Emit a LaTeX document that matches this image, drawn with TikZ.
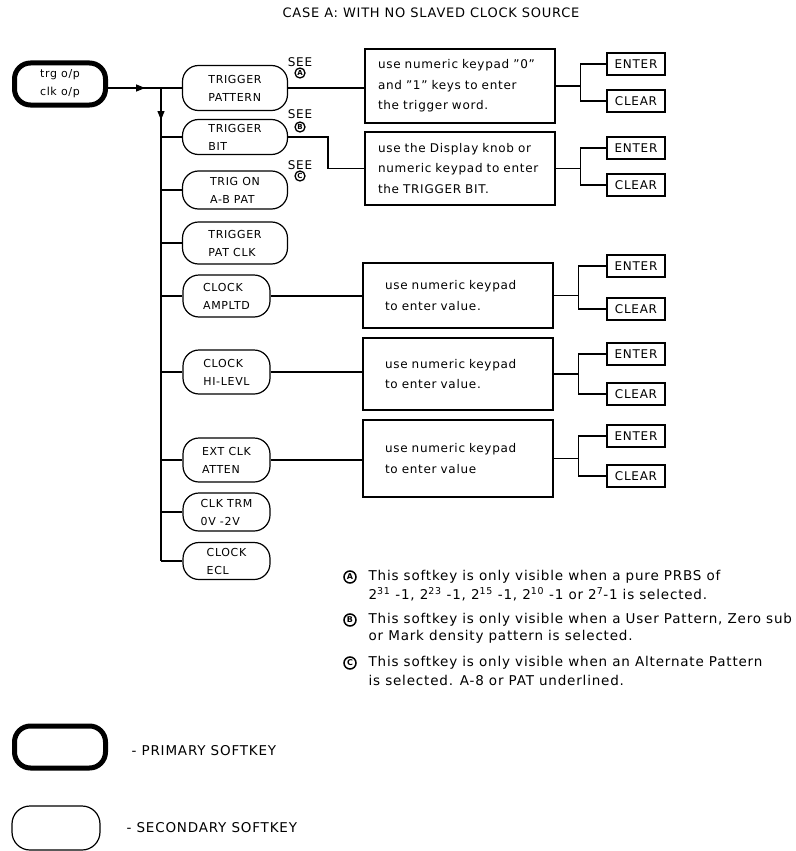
\documentclass[tikz,border=0pt]{standalone}
\usepackage{fontspec}
\setmainfont[LetterSpace=6]{DejaVu Sans}
\usetikzlibrary{arrows.meta,decorations.markings}
\begin{document}
\begin{tikzpicture}[x=1pt,y=-1pt,line width=1.2pt,
  every node/.style={inner sep=0pt},
  txt/.style={font=\fontsize{11}{18}\selectfont},
  btxt/.style={font=\fontsize{12}{20.5}\selectfont},
  prim/.style={draw,line width=5pt,rounded corners=16pt,minimum width=91pt,minimum height=42pt,align=left,txt},
  softA/.style={draw,rounded corners=16pt,minimum width=105pt,minimum height=42pt,align=left,txt},
  softB/.style={draw,rounded corners=16pt,minimum width=87pt,minimum height=42pt,align=left,txt},
  info/.style={draw,minimum width=190pt,align=left,btxt},
  key/.style={draw,minimum width=58pt,minimum height=22pt,font=\fontsize{12}{12}\selectfont},
  circ/.style={draw,circle,line width=1.3pt,minimum size=10pt,font=\fontsize{7}{7}\selectfont\bfseries},
  fcirc/.style={draw,circle,line width=1.5pt,minimum size=12pt,font=\fontsize{8}{8}\selectfont\bfseries},
  fn/.style={anchor=west,font=\fontsize{13.5}{15}\selectfont},
  midarrow/.style={postaction={decorate},decoration={markings,mark=at position #1 with {\arrow{Triangle[length=9pt,width=7pt]}}}}
]
\useasboundingbox (0,0) rectangle (795,851);

\node[font=\fontsize{13}{15}\selectfont] (title) at (431,13) {CASE A: WITH NO SLAVED CLOCK SOURCE};

% primary key
\node[prim] (P) at (60,84) {trg o/p\\clk o/p};
\coordinate (J) at (161,88);

% secondary keys
\node[softA,minimum height=45pt] (TP) at (235,88) {TRIGGER\\PATTERN};
\node[softA,minimum height=35pt] (TB) at (235,137) {TRIGGER\\BIT};
\node[softA,minimum height=38pt] (TA) at (235,190) {TRIG ON\\A-B PAT};
\node[softA,minimum height=42pt] (TC) at (235,243) {TRIGGER\\PAT CLK};
\node[softB,minimum height=42pt] (CA) at (226.5,296) {CLOCK\\AMPLTD};
\node[softB,minimum height=44pt] (CH) at (226.5,372) {CLOCK\\HI-LEVL};
\node[softB,minimum height=44pt] (EA) at (226.5,460) {EXT CLK\\ATTEN};
\node[softB,minimum height=38pt] (CT) at (226.5,512) {CLK TRM\\0V -2V};
\node[softB,minimum height=37pt] (CE) at (226.5,561) {CLOCK\\ECL};

% SEE labels
\node[font=\fontsize{12}{12}\selectfont] (SA) at (300,62) {SEE};
\node[circ] (cA) at (300,73) {A};
\node[font=\fontsize{12}{12}\selectfont] (SB) at (300,114) {SEE};
\node[circ] (cB) at (300,127) {B};
\node[font=\fontsize{12}{12}\selectfont] (SC) at (300,165) {SEE};
\node[circ] (cC) at (300,176) {C};

% info boxes
\node[info,minimum height=74pt,text width=164pt,inner xsep=13pt] (B1) at (460,86)
  {use numeric keypad "0"\\and "1" keys to enter\\the trigger word.};
\node[info,minimum height=73pt,text width=164pt,inner xsep=13pt] (B2) at (460,168.5)
  {use the Display knob or\\numeric keypad to enter\\the TRIGGER BIT.};
\node[info,minimum height=65pt,text width=146pt,inner xsep=22pt] (B3) at (458,295.5)
  {use numeric keypad\\to enter value.};
\node[info,minimum height=72pt,text width=146pt,inner xsep=22pt] (B4) at (458,374)
  {use numeric keypad\\to enter value.};
\node[info,minimum height=77pt,text width=146pt,inner xsep=22pt] (B5) at (458,458.5)
  {use numeric keypad\\to enter value};

% ENTER / CLEAR keys
\node[key] (E1) at (636,64) {ENTER};
\node[key] (C1) at (636,101) {CLEAR};
\node[key] (E2) at (636,148) {ENTER};
\node[key] (C2) at (636,185) {CLEAR};
\node[key] (E3) at (636,266) {ENTER};
\node[key] (C3) at (636,309) {CLEAR};
\node[key] (E4) at (636,354) {ENTER};
\node[key] (C4) at (636,394) {CLEAR};
\node[key] (E5) at (636,436) {ENTER};
\node[key] (C5) at (636,476) {CLEAR};

% connectors
\draw[midarrow=0.7] (P.east |- J) -- (J);
\draw (J) -- (J -| TP.west);
\draw[midarrow=32pt] (J) -- (J |- CE.west);
\foreach \n in {TB,TA,TC,CA,CH,EA,CT,CE} \draw (J |- \n.west) -- (\n.west);

\draw (TP.east) -- (TP.east -| B1.west);
\coordinate (TBk) at (328,137);
\draw (TB.east) -- (TB.east -| TBk) |- (B2.west);
\draw (CA.east) -- (CA.east -| B3.west);
\draw (CH.east) -- (CH.east -| B4.west);
\draw (EA.east) -- (EA.east -| B5.west);

\foreach \b/\e/\c in {B1/E1/C1,B2/E2/C2,B3/E3/C3,B4/E4/C4,B5/E5/C5}{
  \draw (\b.east) -- ++(25,0) coordinate (K\b);
  \draw (\e.west) -| (K\b) |- (\c.west);
}

% footnotes
\node[fcirc] (fA) at (350,577) {A};
\node[fn] (fA1) at (368,577) {This softkey is only visible when a pure PRBS of};
\node[fn] (fA2) at (368,594) {2\textsuperscript{31} -1, 2\textsuperscript{23} -1, 2\textsuperscript{15} -1, 2\textsuperscript{10} -1 or 2\textsuperscript{7}-1 is selected.};
\node[fcirc] (fB) at (350,620) {B};
\node[fn] (fB1) at (368,620) {This softkey is only visible when a User Pattern, Zero sub};
\node[fn] (fB2) at (368,637) {or Mark density pattern is selected.};
\node[fcirc] (fC) at (350,663) {C};
\node[fn] (fC1) at (368,663) {This softkey is only visible when an Alternate Pattern};
\node[fn] (fC2) at (368,680) {is selected. A-8 or PAT underlined.};

% legend
\node[prim] (LP) at (60,747) {};
\node[fn] (LPt) at (131,751) {- PRIMARY SOFTKEY};
\node[draw,rounded corners=18pt,minimum width=88pt,minimum height=44pt] (LS) at (56,828) {};
\node[fn] (LSt) at (126,828) {- SECONDARY SOFTKEY};
\end{tikzpicture}
\end{document}
